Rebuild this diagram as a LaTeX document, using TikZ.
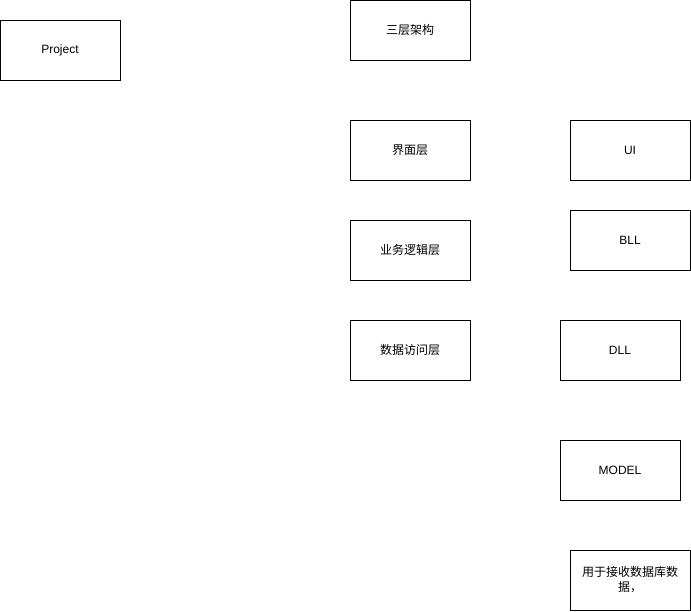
\documentclass[tikz,border=0pt]{standalone}
\usepackage{fontspec}
\setmainfont{Liberation Sans}
\newfontfamily\cjk{Noto Sans CJK SC}
\usepackage{tikz}
\usetikzlibrary{positioning}

\begin{document}
\begin{tikzpicture}[
    x=1pt, y=-1pt,
    every node/.style={font=\fontsize{12pt}{15pt}\selectfont},
    box/.style={rectangle, draw, line width=0.9pt, minimum width=120pt, minimum height=60pt, inner sep=0pt, align=center}
]
\useasboundingbox (0,0) rectangle (691,611);
\node (project) [box] at (60,50) {Project};
\node (arch) [box] at (410,30) {\cjk 三层架构};
\node (uilayer) [box] at (410,150) {\cjk 界面层};
\node (bizlayer) [box] at (410,250) {\cjk 业务逻辑层};
\node (datalayer) [box] at (410,350) {\cjk 数据访问层};
\node (ui) [box] at (630,150) {UI};
\node (bll) [box] at (630,240) {BLL};
\node (dll) [box] at (620,350) {DLL};
\node (model) [box] at (620,470) {MODEL};
\node (modelnote) [box] at (630,580) {\cjk 用于接收数据库数\\\cjk 据，};
\end{tikzpicture}
\end{document}
